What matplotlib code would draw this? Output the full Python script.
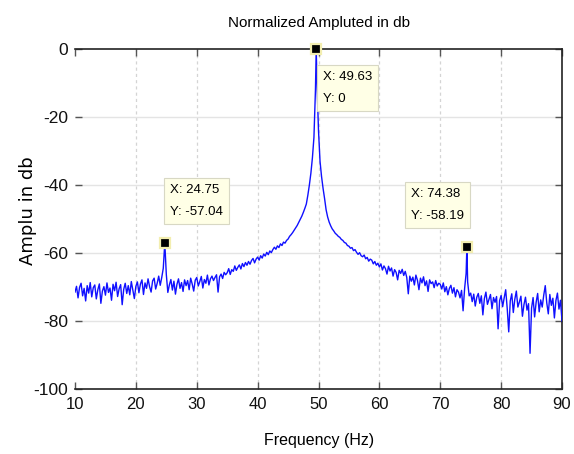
import numpy as np
import matplotlib
matplotlib.use("Agg")
import matplotlib.pyplot as plt

NARROW = ["Liberation Sans Narrow", "Liberation Sans", "DejaVu Sans"]

# spectrum samples, 0.25 Hz apart from 10 Hz to 90 Hz
freq_start, freq_stop, freq_step = 10.0, 90.0, 0.25
amplitude_db = [
    # 10.00 - 14.75
    -71.5, -69.8, -73.2, -70.1, -68.9, -72.6, -70.4, -74.1, -69.6, -71.8,
    -68.7, -72.9, -70.2, -69.4, -73.5, -70.8, -69.1, -74.8, -71.2, -69.9,
    # 15.00 - 19.75
    -72.4, -68.8, -71.6, -70.3, -73.9, -69.2, -71.1, -68.6, -72.8, -70.5,
    -69.3, -75.2, -70.7, -68.9, -71.9, -69.6, -72.3, -68.4, -70.9, -73.4,
    # 20.00 - 24.75
    -69.8, -68.5, -71.7, -69.1, -67.9, -72.2, -68.8, -70.4, -67.6, -69.9,
    -71.5, -68.2, -67.4, -70.6, -68.9, -66.8, -69.5, -67.2, -64.5, -57.04,
    # 25.00 - 29.75
    -66.3, -71.6, -69.4, -67.8, -70.9, -68.3, -72.1, -69.2, -67.6, -70.4,
    -68.7, -71.3, -67.9, -69.6, -68.1, -70.8, -67.4, -69.1, -71.2, -68.0,
    # 30.00 - 34.75
    -67.2, -69.7, -68.4, -66.9, -70.3, -67.8, -68.9, -66.5, -69.4, -67.6,
    -66.8, -68.1, -67.2, -66.4, -71.5, -67.0, -66.2, -67.5, -65.7, -66.4,
    # 35.00 - 39.75
    -65.8, -64.6, -66.3, -64.9, -65.4, -63.8, -65.1, -64.2, -63.5, -64.7,
    -63.1, -64.0, -62.8, -63.6, -62.5, -63.3, -62.2, -61.6, -62.9, -61.8,
    # 40.00 - 44.75
    -61.2, -62.1, -60.8, -61.5, -60.3, -60.9, -59.8, -60.5, -59.4, -59.9,
    -59.0, -58.3, -58.9, -57.9, -58.4, -57.3, -57.8, -56.8, -57.1, -56.3,
    # 45.00 - 49.75
    -55.9, -55.1, -54.6, -54.0, -53.3, -52.6, -51.9, -51.0, -50.1, -49.2,
    -48.1, -46.9, -45.6, -43.0, -40.0, -36.5, -32.0, -26.0, -12.0, -10.0,
    # 50.00 - 54.75
    -24.0, -33.0, -37.5, -41.0, -44.0, -47.3, -49.4, -50.9, -52.0, -52.9,
    -53.5, -54.2, -54.6, -55.1, -55.4, -56.0, -56.3, -56.9, -57.1, -57.8,
    # 55.00 - 59.75
    -58.0, -58.6, -58.4, -59.3, -59.0, -59.8, -60.4, -59.9, -60.8, -61.1,
    -60.6, -61.7, -61.3, -62.4, -61.8, -62.1, -63.2, -62.5, -63.6, -63.0,
    # 60.00 - 64.75
    -64.1, -63.2, -65.0, -63.8, -64.6, -66.2, -63.9, -65.3, -64.4, -66.8,
    -64.9, -65.7, -67.9, -65.1, -66.0, -64.8, -66.6, -65.4, -67.2, -72.0,
    # 65.00 - 69.75
    -66.8, -68.3, -67.1, -69.4, -66.5, -68.0, -70.8, -67.4, -68.8, -67.0,
    -69.6, -68.2, -71.3, -67.9, -69.0, -68.5, -70.2, -68.1, -69.7, -68.9,
    # 70.00 - 74.75
    -69.2, -70.6, -68.8, -71.4, -69.9, -72.3, -70.4, -69.5, -71.8, -70.2,
    -72.9, -70.8, -71.5, -73.2, -71.0, -77.0, -70.5, -66.0, -68.5, -72.6,
    # 75.00 - 79.75
    -71.8, -74.3, -72.1, -75.6, -73.0, -71.9, -74.8, -72.6, -78.2, -73.4,
    -71.5, -75.1, -73.7, -72.2, -76.4, -73.1, -74.5, -72.8, -82.3, -74.0,
    # 80.00 - 84.75
    -72.5, -75.8, -73.2, -70.8, -76.3, -83.2, -74.1, -72.0, -77.5, -73.6,
    -71.2, -75.9, -74.4, -72.7, -78.6, -75.2, -73.0, -76.8, -74.9, -89.5,
    # 85.00 - 89.75
    -76.2, -73.1, -78.8, -74.5, -71.9, -77.3, -73.8, -75.9, -72.4, -69.6,
    -74.7, -77.9, -72.2, -75.4, -73.3, -79.1, -74.0, -71.8, -76.5, -73.9,
    # 90.00
    -80.0,
]

# data tips (peaks)
tip_x = [24.75, 49.625, 74.375]
tip_y = [-57.04, 0.0, -58.19]
tip_labels = ["X: 24.75\nY: -57.04", "X: 49.63\nY: 0", "X: 74.38\nY: -58.19"]
tip_box_centers = [(30.0, -44.7), (54.8, -11.5), (69.5, -45.9)]

x_ticks = [10, 20, 30, 40, 50, 60, 70, 80, 90]
y_ticks = [-100, -80, -60, -40, -20, 0]


def main():
    """draw the spectrum"""
    freq = np.arange(freq_start, freq_stop + freq_step / 2, freq_step)
    x = np.concatenate([freq, tip_x])
    y = np.concatenate([amplitude_db, tip_y])
    order = np.argsort(x, kind="stable")

    fig = plt.figure(figsize=(5.74, 4.54), dpi=100)
    ax = fig.add_axes([75 / 574, 65 / 454, 487 / 574, 340 / 454])

    ax.plot(x[order], y[order], color="#1010ff", lw=1.0, zorder=3)

    ax.set_xlim(10, 90)
    ax.set_ylim(-100, 0)
    ax.set_xticks(x_ticks)
    ax.set_yticks(y_ticks)
    ax.set_xticklabels([str(t) for t in x_ticks], family=NARROW, fontsize=12)
    ax.set_yticklabels([str(t) for t in y_ticks], family=NARROW, fontsize=12.5)
    ax.tick_params(direction="in", length=5, width=1, color="#555555",
                   top=True, right=True, labelcolor="#111111")
    ax.tick_params(axis="x", pad=6)
    ax.tick_params(axis="y", pad=5)

    for t in x_ticks[1:-1]:
        ax.axvline(t, color="#d4d4d4", lw=0.9, ls=(0, (2.5, 2.5)), zorder=1)
    for t in y_ticks[1:-1]:
        ax.axhline(t, color="#e4e4e4", lw=1.0, zorder=1)

    ax.spines["left"].set_visible(False)
    for side in ["top", "bottom", "right"]:
        ax.spines[side].set_color("#222222")
        ax.spines[side].set_linewidth(1.2)

    ax.plot(tip_x, tip_y, "s", color="black", ms=7.5, mec="#f3eeb0",
            mew=1.6, clip_on=False, zorder=6)
    for (bx, by), label in zip(tip_box_centers, tip_labels):
        ax.text(bx, by, label, ha="center", va="center", multialignment="left",
                family=NARROW, fontsize=9.5, linespacing=2.1, zorder=7,
                bbox=dict(boxstyle="square,pad=0.45", fc="#ffffe6",
                          ec="#d8d8c4", lw=0.8))

    fig.text(319 / 574, 1 - 23 / 454, "Normalized Ampluted in db",
             ha="center", va="center", family=NARROW, fontsize=11)
    fig.text(319 / 574, 1 - 440 / 454, "Frequency (Hz)",
             ha="center", va="center", family=NARROW, fontsize=11.5)
    fig.text(28 / 574, 1 - 211 / 454, "Amplu in db", rotation=90,
             ha="center", va="center", family="DejaVu Sans", fontsize=13)

    fig.savefig("out.png", dpi=100)


if __name__ == "__main__":
    main()
